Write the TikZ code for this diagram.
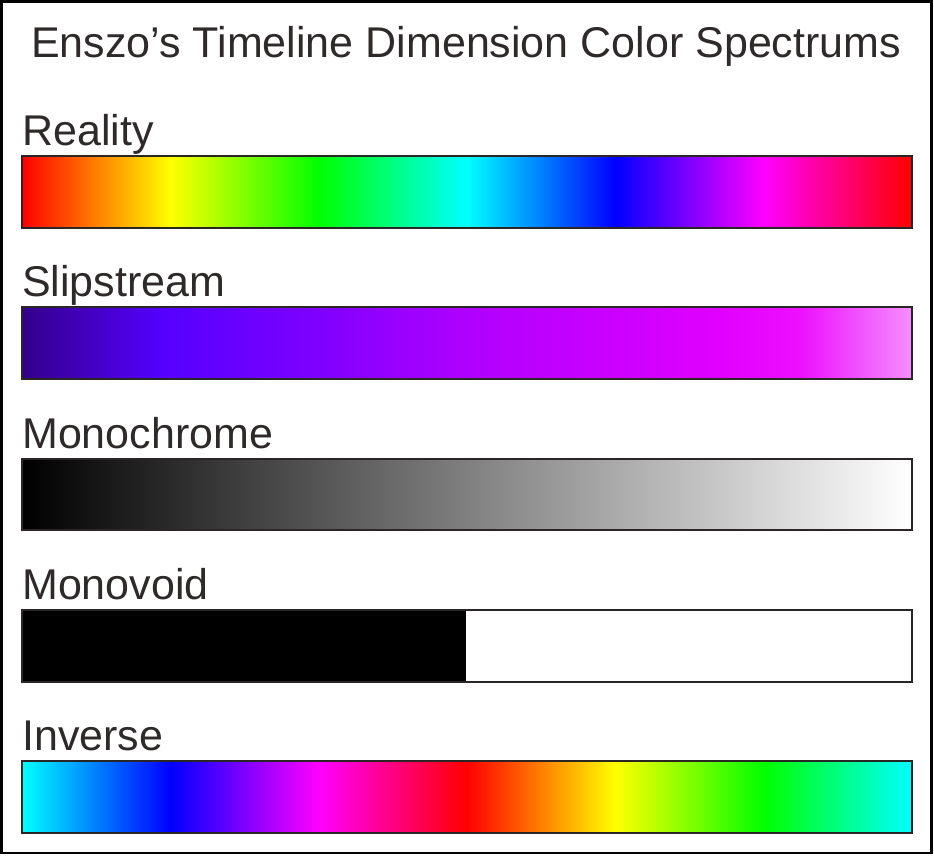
\documentclass[tikz,border=0pt]{standalone}
\usepackage{fontspec}
\setmainfont{Liberation Sans}
\definecolor{txt}{HTML}{2E2A2A}
\definecolor{barline}{HTML}{2B2626}
\pgfdeclarehorizontalshading{reality}{100bp}{rgb(0bp)=(1,0,0); rgb(25bp)=(1,0,0); rgb(33.333bp)=(1,1,0); rgb(41.667bp)=(0,1,0); rgb(50bp)=(0,1,1); rgb(58.333bp)=(0,0,1); rgb(66.667bp)=(1,0,1); rgb(75bp)=(1,0,0); rgb(100bp)=(1,0,0)}
\pgfdeclarehorizontalshading{slipstream}{100bp}{rgb(0bp)=(0.2,0,0.54); rgb(25bp)=(0.2,0,0.54); rgb(33bp)=(0.333,0,1); rgb(41.7bp)=(0.5,0,1); rgb(50.2bp)=(0.69,0,1); rgb(58.6bp)=(0.8,0,1); rgb(64.2bp)=(0.88,0,1); rgb(68.7bp)=(0.93,0.06,1); rgb(75bp)=(0.96,0.56,1); rgb(100bp)=(0.96,0.56,1)}
\pgfdeclarehorizontalshading{inverse}{100bp}{rgb(0bp)=(0,1,1); rgb(25bp)=(0,1,1); rgb(33.333bp)=(0,0,1); rgb(41.667bp)=(1,0,1); rgb(50bp)=(1,0,0); rgb(58.333bp)=(1,1,0); rgb(66.667bp)=(0,1,0); rgb(75bp)=(0,1,1); rgb(100bp)=(0,1,1)}
\begin{document}
\begin{tikzpicture}[x=1pt,y=-1pt,
  lbl/.style={anchor=base west,inner sep=0pt,text=txt,font=\fontsize{43}{50}\selectfont},
  barframe/.style={draw=barline,line width=2pt}]
\useasboundingbox (0,0) rectangle (934,855);
\draw[black,line width=2.5pt] (1.5,1.5) rectangle (931.5,853);
\node[lbl] (title) at (31,57) {Enszo’s Timeline Dimension Color Spectrums};
% Reality
\node[lbl] (lreal) at (22,145) {Reality};
\shade[shading=reality] (22,156) rectangle (912,228);
\draw[barframe] (22,156) rectangle (912,228);
% Slipstream
\node[lbl] (lslip) at (22,296) {Slipstream};
\shade[shading=slipstream] (22,307) rectangle (912,379);
\draw[barframe] (22,307) rectangle (912,379);
% Monochrome
\node[lbl] (lmono) at (22,448) {Monochrome};
\shade[left color=black,right color=white] (22,459) rectangle (912,530);
\draw[barframe] (22,459) rectangle (912,530);
% Monovoid
\node[lbl] (lvoid) at (22,599) {Monovoid};
\fill[black] (22,610) rectangle (466,682);
\draw[barframe] (22,610) rectangle (912,682);
% Inverse
\node[lbl] (linv) at (22,750) {Inverse};
\shade[shading=inverse] (22,761) rectangle (912,833);
\draw[barframe] (22,761) rectangle (912,833);
\end{tikzpicture}
\end{document}
